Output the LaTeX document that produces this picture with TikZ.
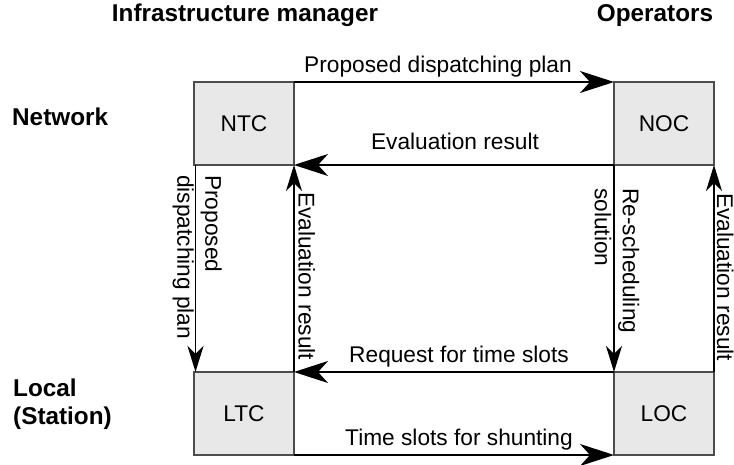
\documentclass[tikz,border=0pt]{standalone}
\usepackage{fontspec}
\setmainfont{Liberation Sans}
\usetikzlibrary{arrows.meta}
\begin{document}
\begin{tikzpicture}[x=1pt,y=-1pt,
  box/.style={draw=black!70, line width=1.4pt, fill=black!9, outer sep=0pt,
    minimum width=100pt, minimum height=83pt, inner sep=0pt,
    font=\fontsize{22.7}{28}\selectfont},
  harrow/.style={line width=1.8pt, -{Stealth[length=34pt,width=22pt,inset=10pt]}},
  varrow/.style={line width=1.8pt, -{Stealth[length=26pt,width=16pt,inset=8pt]}},
  lbl/.style={inner sep=0pt, font=\fontsize{22.7}{28}\selectfont},
  hdr/.style={inner sep=0pt, font=\fontsize{24.3}{28}\selectfont\bfseries},
]
\useasboundingbox (0,0) rectangle (734,465);
% headers
\node[hdr, anchor=base] (hIM) at (245,22) {Infrastructure manager};
\node[hdr, anchor=base] (hOP) at (655,22) {Operators};
\node[hdr, anchor=west] (hNW) at (12,117) {Network};
\node[hdr, anchor=north west, align=left] (hLC) at (13,379) {Local\\(Station)};
% boxes
\node[box] (NTC) at (244,123.5) {NTC};
\node[box] (NOC) at (664,123.5) {NOC};
\node[box] (LTC) at (244,413.5) {LTC};
\node[box] (LOC) at (664,413.5) {LOC};
% horizontal arrows
\draw[harrow] (NTC.north east) -- (NOC.north west);
\draw[harrow] (NOC.south west) -- (NTC.south east);
\draw[harrow] (LOC.north west) -- (LTC.north east);
\draw[harrow] (LTC.south east) -- (LOC.south west);
% vertical arrows
\draw[varrow] ([xshift=1.5pt]NTC.south west) -- ([xshift=1.5pt]LTC.north west);
\draw[varrow] (LTC.north east) -- (NTC.south east);
\draw[varrow] (NOC.south west) -- (LOC.north west);
\draw[varrow] (LOC.north east) -- (NOC.south east);
% horizontal labels
\node[lbl, anchor=base] (t1) at (438,73) {Proposed dispatching plan};
\node[lbl, anchor=base] (t2) at (455,150) {Evaluation result};
\node[lbl, anchor=base] (t3) at (459,362) {Request for time slots};
\node[lbl, anchor=base] (t4) at (459,445) {Time slots for shunting};
% vertical labels
\node[lbl, rotate=-90, anchor=north west, align=left] (v1) at (222,175) {Proposed\\dispatching plan};
\node[lbl, rotate=-90, anchor=base west] (v2) at (298.5,192) {Evaluation result};
\node[lbl, rotate=-90, anchor=north west, align=left] (v3) at (639.5,188) {Re-scheduling\\solution};
\node[lbl, rotate=-90, anchor=base west] (v4) at (717,193) {Evaluation result};
\end{tikzpicture}
\end{document}
